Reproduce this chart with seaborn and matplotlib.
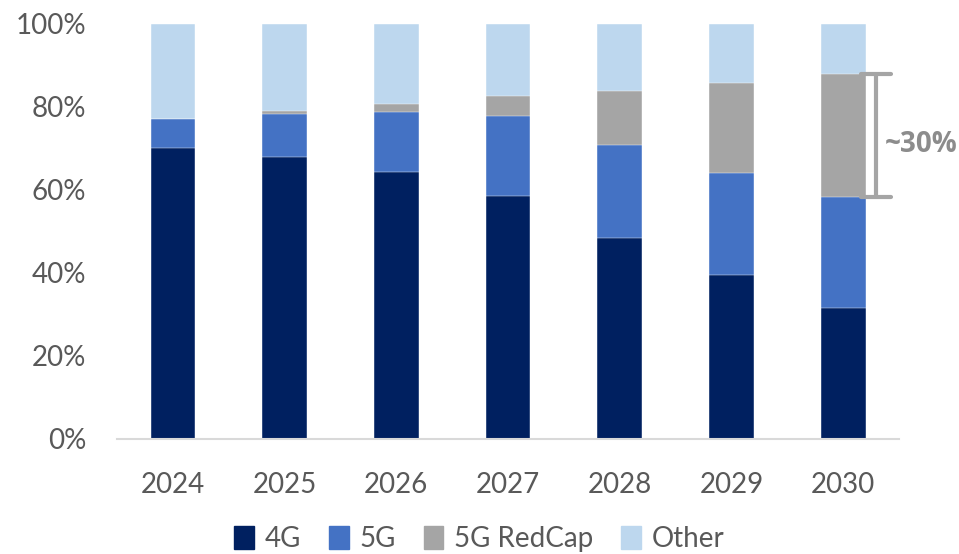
import pandas as pd
import seaborn as sns
import matplotlib.pyplot as plt
from matplotlib.patches import Patch
from matplotlib.ticker import PercentFormatter

years = ['2024', '2025', '2026', '2027', '2028', '2029', '2030']
share_4g = [70.0, 68.0, 64.3, 58.5, 48.5, 39.5, 31.5]
share_5g = [7.0, 10.4, 14.6, 19.3, 22.4, 24.7, 26.7]
share_redcap = [0.2, 0.6, 1.9, 4.8, 13.0, 21.7, 29.8]
share_other = [100 - a - b - c for a, b, c in zip(share_4g, share_5g, share_redcap)]

series = ['4G', '5G', '5G RedCap', 'Other']
palette = ['#002060', '#4472C4', '#A5A5A5', '#BDD7EE']
TEXT = '#595959'

df = pd.DataFrame({'Year': years, '4G': share_4g, '5G': share_5g,
                   '5G RedCap': share_redcap, 'Other': share_other})
# cumulative tops, so the stack can be drawn back to front
cum = df[series].cumsum(axis=1)

sns.set_style('white')
plt.rcParams['font.family'] = ['Lato', 'DejaVu Sans']

fig = plt.figure(figsize=(9.59, 5.54), dpi=100)
ax = fig.add_axes([0.122, 0.2076, 0.8155, 0.7491])

for name, color in reversed(list(zip(series, palette))):
    sns.barplot(x=df['Year'], y=cum[name], color=color, width=0.4,
                edgecolor='white', linewidth=0.3, saturation=1, ax=ax)

ax.set_xlim(-0.5, 6.5)
ax.set_ylim(0, 100)
ax.set_yticks(range(0, 101, 20))
ax.yaxis.set_major_formatter(PercentFormatter(decimals=0))
ax.set_xlabel('')
ax.set_ylabel('')
ax.tick_params(axis='both', length=0, labelsize=20, labelcolor=TEXT)
ax.tick_params(axis='y', pad=22)
ax.tick_params(axis='x', pad=24)
sns.despine(ax=ax, left=True)
ax.spines['bottom'].set_color('#D9D9D9')
ax.spines['bottom'].set_linewidth(1.5)

# ~30% bracket on the 2030 RedCap segment
lo = cum['5G'].iloc[-1]
hi = cum['5G RedCap'].iloc[-1]
bk = dict(color='#A5A5A5', lw=3, clip_on=False)
ax.plot([6.29, 6.29], [lo, hi], **bk)
ax.plot([6.16, 6.43], [lo, lo], **bk)
ax.plot([6.16, 6.43], [hi, hi], **bk)
ax.text(6.37, 71, '~30%', fontsize=20, fontweight='bold',
        family=['Open Sans', 'DejaVu Sans'],
        color='#8C8C8C', va='center', ha='left', clip_on=False)

handles = [Patch(color=c) for c in palette]
fig.legend(handles, series, loc='center', bbox_to_anchor=(0.5, 0.027), ncol=4,
           frameon=False, fontsize=20, labelcolor=TEXT, handlelength=0.7,
           handleheight=0.9, handletextpad=0.4, columnspacing=1.0)

fig.savefig('out.png', dpi=100)
